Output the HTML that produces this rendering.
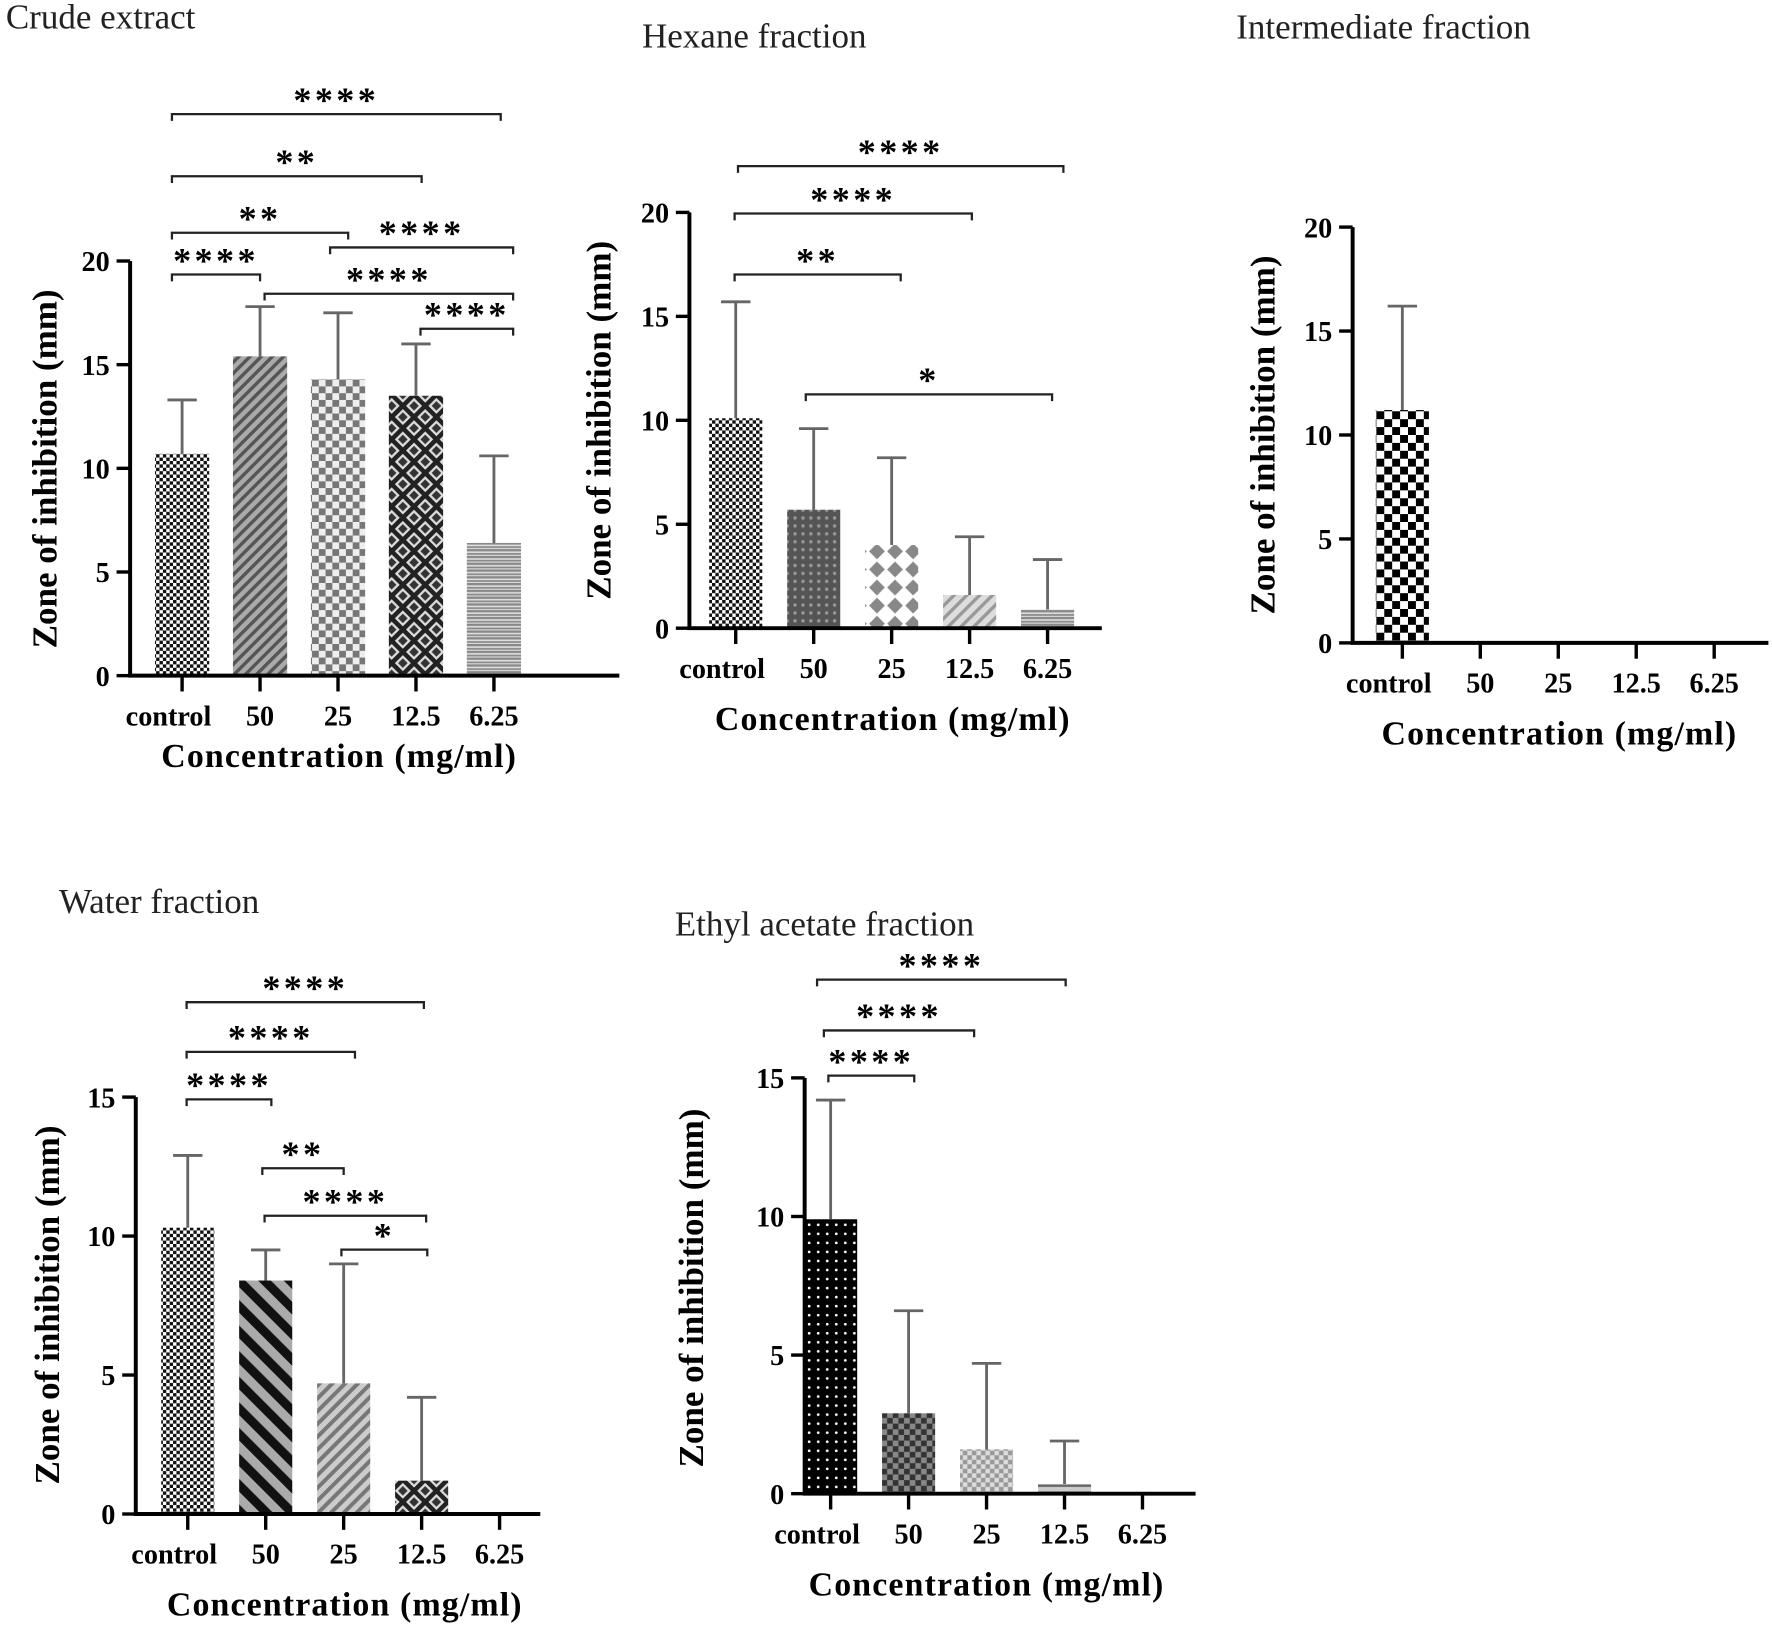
<!DOCTYPE html>
<html><head><meta charset="utf-8"><style>
html,body{margin:0;padding:0;background:#fff;}
svg{display:block;font-family:"Liberation Serif",serif;}
</style></head><body>
<svg id="fig" width="1772" height="1627" viewBox="0 0 1568 1440" xmlns="http://www.w3.org/2000/svg">
<defs>
<pattern id="pFineChk" width="6" height="6" patternUnits="userSpaceOnUse"><rect width="6" height="6" fill="#fff"/><rect width="3" height="3" fill="#111"/><rect x="3" y="3" width="3" height="3" fill="#111"/></pattern>
<pattern id="pDiagGrey" width="7" height="7" patternUnits="userSpaceOnUse" patternTransform="rotate(45)"><rect width="7" height="7" fill="#aaa"/><rect width="3" height="7" fill="#555"/></pattern>
<pattern id="pGreyChk" width="12" height="12" patternUnits="userSpaceOnUse"><rect width="12" height="12" fill="#eee"/><rect width="6" height="6" fill="#777"/><rect x="6" y="6" width="6" height="6" fill="#777"/></pattern>
<pattern id="pLattice" width="14" height="14" patternUnits="userSpaceOnUse" patternTransform="rotate(45)"><rect width="14" height="14" fill="#ddd"/><rect width="4" height="14" fill="#222"/><rect width="14" height="4" fill="#222"/><rect x="6" y="6" width="6" height="6" fill="#333"/></pattern>
<pattern id="pBrick" width="12" height="6" patternUnits="userSpaceOnUse"><rect width="12" height="6" fill="#888"/><rect y="2" width="12" height="1.5" fill="#ddd"/><rect y="5" width="12" height="1" fill="#ddd"/></pattern>
<pattern id="pDots" width="7" height="7" patternUnits="userSpaceOnUse"><rect width="7" height="7" fill="#555"/><circle cx="3.5" cy="3.5" r="1.5" fill="#999"/></pattern>
<pattern id="pDiamond" width="16" height="16" patternUnits="userSpaceOnUse"><rect width="16" height="16" fill="#fff"/><path d="M8 1 L15 8 L8 15 L1 8Z" fill="#888"/></pattern>
<pattern id="pDiagLight" width="8" height="8" patternUnits="userSpaceOnUse" patternTransform="rotate(45)"><rect width="8" height="8" fill="#ddd"/><rect width="3" height="8" fill="#999"/></pattern>
<pattern id="pBigChk" width="14" height="14" patternUnits="userSpaceOnUse"><rect width="14" height="14" fill="#fff"/><rect width="7" height="7" fill="#000"/><rect x="7" y="7" width="7" height="7" fill="#000"/></pattern>
<pattern id="pThickDiag" width="16" height="16" patternUnits="userSpaceOnUse" patternTransform="rotate(-45)"><rect width="16" height="16" fill="#aaa"/><rect width="8" height="16" fill="#111"/></pattern>
<pattern id="pDiagMid" width="8" height="8" patternUnits="userSpaceOnUse" patternTransform="rotate(45)"><rect width="8" height="8" fill="#ccc"/><rect width="3.5" height="8" fill="#777"/></pattern>
<pattern id="pBlackDots" width="8" height="8" patternUnits="userSpaceOnUse"><rect width="8" height="8" fill="#000"/><circle cx="4" cy="4" r="1.2" fill="#fff"/></pattern>
<pattern id="pDarkChk" width="10" height="10" patternUnits="userSpaceOnUse"><rect width="10" height="10" fill="#888"/><rect width="5" height="5" fill="#333"/><rect x="5" y="5" width="5" height="5" fill="#333"/></pattern>
<pattern id="pLightChk" width="8" height="8" patternUnits="userSpaceOnUse"><rect width="8" height="8" fill="#ddd"/><rect width="4" height="4" fill="#999"/><rect x="4" y="4" width="4" height="4" fill="#999"/></pattern>
<pattern id="pStripesH" width="6" height="6" patternUnits="userSpaceOnUse"><rect width="6" height="6" fill="#ccc"/><rect width="6" height="2" fill="#666"/></pattern>
</defs>
</svg>
<script>
const categories = ["control","50","25","12.5","6.25"];
const crudeValues = [10.7, 15.4, 14.3, 13.5, 6.4];
const crudeErrors = [13.3, 17.8, 17.5, 16.0, 10.6];
const hexaneValues = [10.1, 5.7, 4.0, 1.6, 0.9];
const hexaneErrors = [15.7, 9.6, 8.2, 4.4, 3.3];
const interValues = [11.2, 0, 0, 0, 0];
const interErrors = [16.2, null, null, null, null];
const waterValues = [10.3, 8.4, 4.7, 1.2, 0];
const waterErrors = [12.9, 9.5, 9.0, 4.2, null];
const ethylValues = [9.9, 2.9, 1.6, 0.35, 0];
const ethylErrors = [14.2, 6.6, 4.7, 1.9, null];
const ticks20 = [0,5,10,15,20];
const ticks15 = [0,5,10,15];
const crudeSig = [[0,4,"****"],[0,3,"**"],[0,2,"**"],[0,1,"****"],[2,4,"****"],[1,4,"****"],[3,4,"****"]];
const hexaneSig = [[0,4,"****"],[0,3,"****"],[0,2,"**"],[1,4,"*"]];
const waterSig = [[0,3,"****"],[0,2,"****"],[0,1,"****"],[1,2,"**"],[1,3,"****"],[2,3,"*"]];
const ethylSig = [[0,4,"****"],[0,3,"****"],[0,1,"****"]];

const NS="http://www.w3.org/2000/svg";
const svg=document.getElementById('fig');
function mk(tag,attrs,parent,text){const e=document.createElementNS(NS,tag);for(const k in attrs)e.setAttribute(k,attrs[k]);if(text!==undefined)e.textContent=text;(parent||svg).appendChild(e);return e;}

function chart(o){
  const g=mk('g',{});
  
  
  const y=v=>o.y0-(v/o.ymax)*(o.y0-o.ytop);
  const x=i=>o.x0+o.step*i;
  const t=mk('text',{x:o.tx,y:o.ty,'font-size':31,fill:'#222'},g,o.title);
  
  
  o.values.forEach((v,i)=>{
    if(v>0){
      const b=mk('rect',{x:x(i)-o.bw/2,y:y(v),width:o.bw,height:o.y0-y(v),fill:'url(#'+o.pats[i]+')'},g);
      
      
    }
    const e=o.errors[i];
    if(e!=null){
      const l=mk('path',{d:`M${x(i)} ${y(v)} V${y(e)} M${x(i)-13} ${y(e)} H${x(i)+13}`,stroke:'#666','stroke-width':2.5,fill:'none'},g);
      
      
    }
  });
  const ax=mk('path',{d:`M${o.ax} ${o.ytop} V${o.y0} H${o.xend}`,stroke:'#000','stroke-width':3.5,fill:'none'},g);
  
  
  o.ticks.forEach(tv=>{
    mk('line',{x1:o.ax-12,x2:o.ax,y1:y(tv),y2:y(tv),stroke:'#000','stroke-width':3},g);
    const tl=mk('text',{x:o.ax-18,y:y(tv)+9,'font-size':25,'font-weight':'bold','text-anchor':'end'},g,String(tv));
    
    
  });
  categories.forEach((c,i)=>{
    mk('line',{x1:x(i),x2:x(i),y1:o.y0,y2:o.y0+14,stroke:'#000','stroke-width':3},g);
    const cl=mk('text',{x:x(i)+(i===0?-12:0),y:o.y0+44,'font-size':25,'font-weight':'bold','text-anchor':'middle'},g,c);
    
    
  });
  const xt=mk('text',{x:o.xtc,y:o.y0+(o.xto||90),'font-size':30,'font-weight':'bold','text-anchor':'middle','letter-spacing':1},g,'Concentration (mg/ml)');
  
  
  const yt=mk('text',{x:0,y:0,'font-size':31,'font-weight':'bold','text-anchor':'middle',transform:`translate(${o.ylx},${o.ylc}) rotate(-90)`},g,'Zone of inhibition (mm)');
  
  
  (o.sig||[]).forEach((s,k)=>{
    const [a,b,lab]=s; const by=o.sigY[k]; const x1=o.sigX[k][0], x2=o.sigX[k][1];
    const p=mk('path',{d:`M${x1} ${by+6} V${by} H${x2} V${by+6}`,stroke:'#222','stroke-width':2,fill:'none'},g);
    
    
    const st=mk('text',{x:(x1+x2)/2,y:by-2,'font-size':32,'font-weight':'bold','text-anchor':'middle','letter-spacing':3},g,lab);
    
    
  });
}

chart({name:'crude-extract-chart',title:'Crude extract',tx:5,ty:25,values:crudeValues,errors:crudeErrors,
 pats:['pFineChk','pDiagGrey','pGreyChk','pLattice','pBrick'],ax:115,y0:598,ytop:231,ymax:20,x0:161,step:69,bw:48,xend:548,
 ticks:ticks20,xtc:300,xto:81,ylx:50,ylc:415,sig:crudeSig,
 sigY:[101,156,206,243,219,260,291],sigX:[[152,443],[152,373],[152,308],[152,230],[292,454],[234,454],[372,454]]});
chart({name:'hexane-fraction-chart',title:'Hexane fraction',tx:568,ty:42,values:hexaneValues,errors:hexaneErrors,
 pats:['pFineChk','pDots','pDiamond','pDiagLight','pBrick'],ax:610,y0:556,ytop:188,ymax:20,x0:651,step:69,bw:47,xend:975,
 ticks:ticks20,xtc:790,ylx:540,ylc:372,sig:hexaneSig,
 sigY:[147,189,243,349],sigX:[[653,941],[650,860],[650,797],[713,931]]});
chart({name:'intermediate-fraction-chart',title:'Intermediate fraction',tx:1094,ty:34,values:interValues,errors:interErrors,
 pats:['pBigChk','pBigChk','pBigChk','pBigChk','pBigChk'],ax:1197,y0:569,ytop:201,ymax:20,x0:1241,step:69,bw:47,xend:1565,
 ticks:ticks20,xtc:1380,ylx:1128,ylc:385,sig:[],sigY:[],sigX:[]});
chart({name:'water-fraction-chart',title:'Water fraction',tx:52,ty:808,values:waterValues,errors:waterErrors,
 pats:['pFineChk','pThickDiag','pDiagMid','pLattice','pBrick'],ax:120,y0:1340,ytop:971,ymax:15,x0:166,step:69,bw:47,xend:478,
 ticks:ticks15,xtc:305,ylx:52,ylc:1155,sig:waterSig,
 sigY:[887,931,973,1034,1076,1106],sigX:[[165,375],[165,314],[165,240],[232,304],[234,377],[302,378]]});
chart({name:'ethyl-acetate-fraction-chart',title:'Ethyl acetate fraction',tx:597,ty:828,values:ethylValues,errors:ethylErrors,
 pats:['pBlackDots','pDarkChk','pLightChk','pStripesH','pBrick'],ax:712,y0:1322,ytop:954,ymax:15,x0:735,step:69,bw:47,xend:1058,
 ticks:ticks15,xtc:873,ylx:622,ylc:1140,sig:ethylSig,
 sigY:[867,912,952],sigX:[[723,943],[729,862],[733,809]]});
</script>
</body></html>
